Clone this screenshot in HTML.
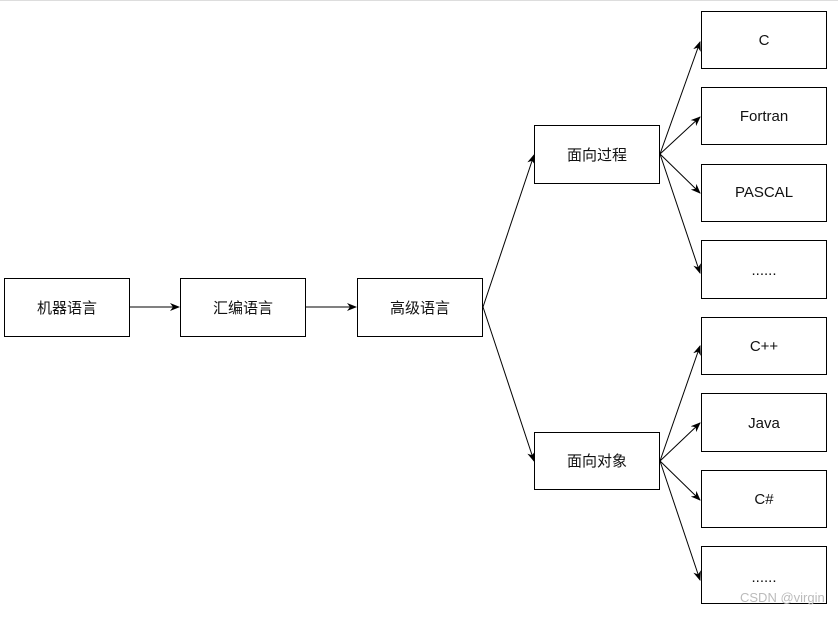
<!DOCTYPE html>
<html><head><meta charset="utf-8"><style>
body{margin:0;width:838px;height:613px;background:#fff;overflow:hidden}
svg text{font-family:"Liberation Sans","Noto Sans CJK SC",sans-serif;font-size:15px;fill:#111}
</style></head><body>
<svg width="838" height="613" xmlns="http://www.w3.org/2000/svg">
<defs><marker id="a" markerWidth="10" markerHeight="8" refX="9" refY="4" orient="auto" markerUnits="userSpaceOnUse"><path d="M0,0 L10,4 L0,8 L3,4z" fill="#000"/></marker></defs>
<line x1="0" y1="0.5" x2="838" y2="0.5" stroke="#ddd"/>
<g fill="#fff" stroke="#000" stroke-width="1">
<rect x="4.5" y="278.5" width="125" height="58"/>
<rect x="180.5" y="278.5" width="125" height="58"/>
<rect x="357.5" y="278.5" width="125" height="58"/>
<rect x="534.5" y="125.5" width="125" height="58"/>
<rect x="534.5" y="432.5" width="125" height="57"/>
<rect x="701.5" y="11.5" width="125" height="57"/>
<rect x="701.5" y="87.5" width="125" height="57"/>
<rect x="701.5" y="164.5" width="125" height="57"/>
<rect x="701.5" y="240.5" width="125" height="58"/>
<rect x="701.5" y="317.5" width="125" height="57"/>
<rect x="701.5" y="393.5" width="125" height="58"/>
<rect x="701.5" y="470.5" width="125" height="57"/>
<rect x="701.5" y="546.5" width="125" height="57"/>
</g>
<g stroke="#000" stroke-width="1" marker-end="url(#a)">
<line x1="130" y1="307" x2="179" y2="307"/>
<line x1="306" y1="307" x2="356" y2="307"/>
<line x1="483" y1="307" x2="534" y2="155"/>
<line x1="483" y1="307" x2="534" y2="461"/>
<line x1="660" y1="154" x2="700" y2="42"/>
<line x1="660" y1="154" x2="700" y2="117"/>
<line x1="660" y1="154" x2="700" y2="193"/>
<line x1="660" y1="154" x2="700" y2="273"/>
<line x1="660" y1="461" x2="700" y2="346"/>
<line x1="660" y1="461" x2="700" y2="423"/>
<line x1="660" y1="461" x2="700" y2="500"/>
<line x1="660" y1="461" x2="700" y2="580"/>
</g>
<g text-anchor="middle">
<text x="67" y="313">机器语言</text>
<text x="243" y="313">汇编语言</text>
<text x="420" y="313">高级语言</text>
<text x="597" y="160">面向过程</text>
<text x="597" y="466">面向对象</text>
<text x="764" y="45">C</text>
<text x="764" y="121">Fortran</text>
<text x="764" y="197">PASCAL</text>
<text x="764" y="275">......</text>
<text x="764" y="351">C++</text>
<text x="764" y="428">Java</text>
<text x="764" y="504">C#</text>
<text x="764" y="582">......</text>
</g>
<text x="740" y="602" style="font-size:13px;fill:#bbb">CSDN @virgin</text>
</svg>
</body></html>
